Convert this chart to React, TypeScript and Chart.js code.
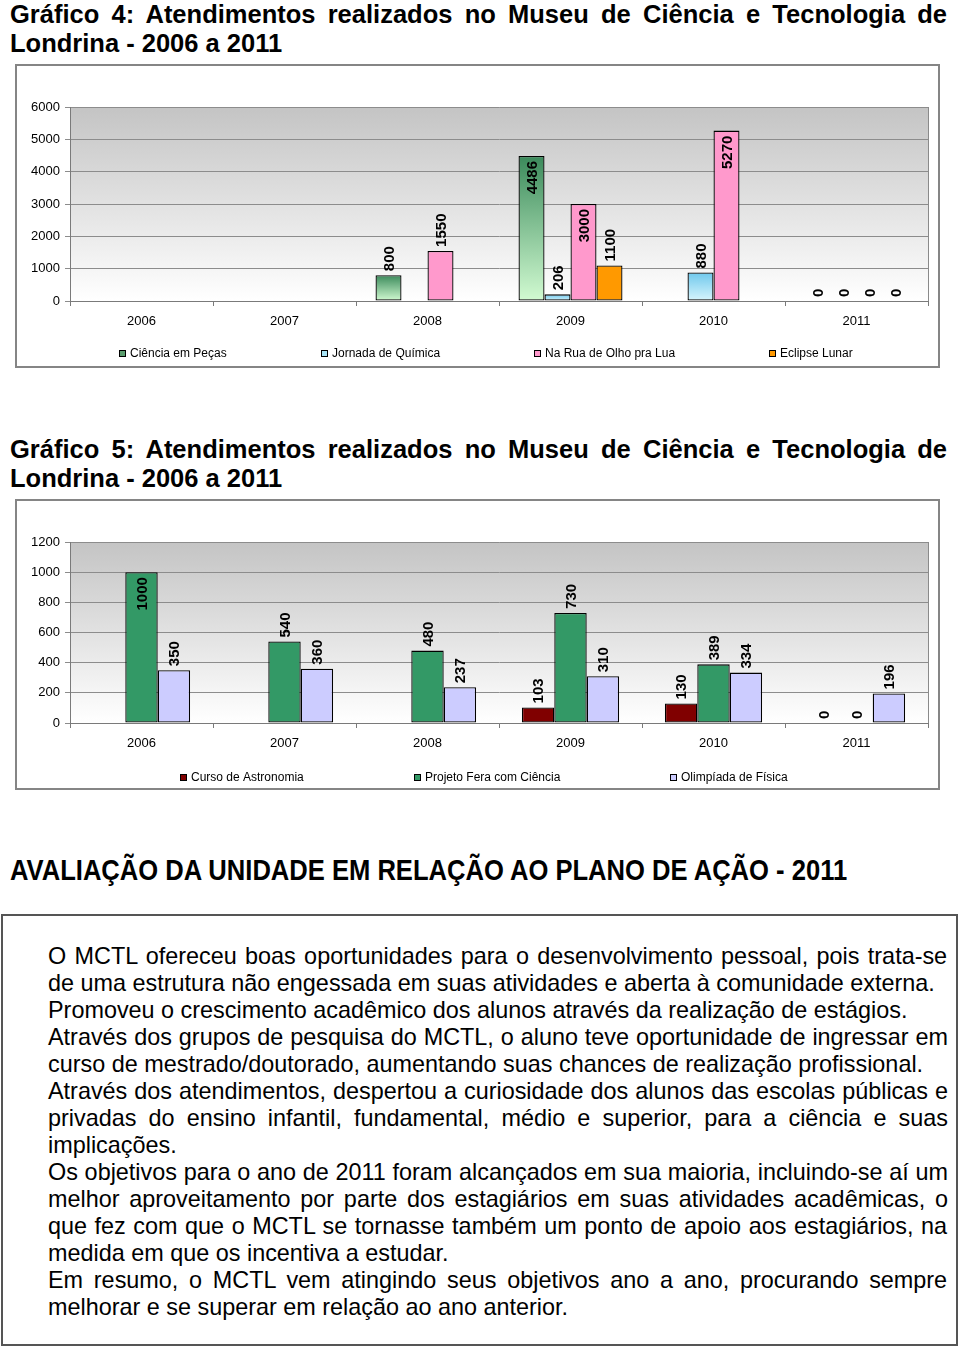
import React, { useEffect, useRef } from "react";
import { Chart, registerables } from "chart.js";

Chart.register(...registerables);

// ---------------- DATA ----------------
const years = ["2006", "2007", "2008", "2009", "2010", "2011"];

// Gráfico 4
const c4Labels = ["Ciência em Peças", "Jornada de Química", "Na Rua de Olho pra Lua", "Eclipse Lunar"];
const cienciaEmPecas = [null, null, 800, 4486, null, 0];
const jornadaDeQuimica = [null, null, null, 206, 880, 0];
const naRuaDeOlhoPraLua = [null, null, 1550, 3000, 5270, 0];
const eclipseLunar = [null, null, null, 1100, null, 0];
const c4Max = 6000;
const c4Step = 1000;

// Gráfico 5
const c5Labels = ["Curso de Astronomia", "Projeto Fera com Ciência", "Olimpíada de Física"];
const cursoDeAstronomia = [null, null, null, 103, 130, 0];
const projetoFeraComCiencia = [1000, 540, 480, 730, 389, 0];
const olimpiadaDeFisica = [350, 360, 237, 310, 334, 196];
const c5Max = 1200;
const c5Step = 200;

const title4 = ["Gráfico 4: Atendimentos realizados no Museu de Ciência e Tecnologia de", "Londrina - 2006 a 2011"];
const title5 = ["Gráfico 5: Atendimentos realizados no Museu de Ciência e Tecnologia de", "Londrina - 2006 a 2011"];
const heading = "AVALIAÇÃO DA UNIDADE EM RELAÇÃO AO PLANO DE AÇÃO - 2011";

// [text, justified]
const bodyLines: [string, boolean][] = [
  ["O MCTL ofereceu boas oportunidades para o desenvolvimento pessoal, pois trata-se", true],
  ["de uma estrutura não engessada em suas atividades e aberta à comunidade externa.", false],
  ["Promoveu o crescimento acadêmico dos alunos através da realização de estágios.", false],
  ["Através dos grupos de pesquisa do MCTL, o aluno teve oportunidade de ingressar em", true],
  ["curso de mestrado/doutorado, aumentando suas chances de realização profissional.", false],
  ["Através dos atendimentos, despertou a curiosidade dos alunos das escolas públicas e", true],
  ["privadas do ensino infantil, fundamental, médio e superior, para a ciência e suas", true],
  ["implicações.", false],
  ["Os objetivos para o ano de 2011 foram alcançados em sua maioria, incluindo-se aí um", true],
  ["melhor aproveitamento por parte dos estagiários em suas atividades acadêmicas, o", true],
  ["que fez com que o MCTL se tornasse também um ponto de apoio aos estagiários, na", true],
  ["medida em que os incentiva a estudar.", false],
  ["Em resumo, o MCTL vem atingindo seus objetivos ano a ano, procurando sempre", true],
  ["melhorar e se superar em relação ao ano anterior.", false],
];

// ---------------- HELPERS ----------------
const FONT = '"Liberation Sans", Arial, Helvetica, sans-serif';

let measureCtx: CanvasRenderingContext2D | null = null;
function textWidth(text: string, font: string): number {
  if (!measureCtx) measureCtx = document.createElement("canvas").getContext("2d");
  measureCtx!.font = font;
  return measureCtx!.measureText(text).width;
}

function Line(props: {
  text: string; left: number; top: number; width: number; lineHeight: number;
  size: number; weight?: string; family?: string; justify?: boolean;
}) {
  const { text, left, top, width, lineHeight, size, weight = "normal", family = FONT, justify } = props;
  const natural = textWidth(text, `${weight} ${size}px ${family}`);
  const spaces = (text.match(/ /g) || []).length;
  let ws = 0;
  if (spaces && (justify || natural > width)) ws = (width - natural) / spaces;
  return (
    <div
      style={{
        position: "absolute", left, top, width, height: lineHeight,
        fontFamily: family, fontSize: size, fontWeight: weight as any,
        lineHeight: lineHeight + "px", whiteSpace: "pre", wordSpacing: ws, color: "#000",
      }}
    >
      {text}
    </div>
  );
}

function FitLine(props: { text: string; left: number; top: number; width: number; size: number; lineHeight: number; family: string; weight: string }) {
  const { text, left, top, width, size, lineHeight, family, weight } = props;
  const natural = textWidth(text, `${weight} ${size}px ${family}`);
  const s = width / natural;
  return (
    <div
      style={{
        position: "absolute", left, top, height: lineHeight, lineHeight: lineHeight + "px",
        fontFamily: family, fontSize: size, fontWeight: weight as any, whiteSpace: "pre",
        transform: `scaleX(${s})`, transformOrigin: "0 0", color: "#000",
      }}
    >
      {text}
    </div>
  );
}

// ---------------- PLUGINS ----------------
const plotBgPlugin = {
  id: "plotBg",
  beforeDraw(chart: any) {
    const { ctx, chartArea: a } = chart;
    const g = ctx.createLinearGradient(0, a.top, 0, a.bottom);
    g.addColorStop(0, "#c4c4c4");
    g.addColorStop(1, "#ffffff");
    ctx.save();
    ctx.fillStyle = g;
    ctx.fillRect(a.left, a.top, a.right - a.left, a.bottom - a.top);
    ctx.restore();
  },
  beforeDatasetsDraw(chart: any) {
    const { ctx, chartArea: a } = chart;
    ctx.save();
    ctx.strokeStyle = "#8a8a8a";
    ctx.lineWidth = 1;
    ctx.beginPath();
    ctx.moveTo(Math.round(a.right) + 0.5, a.top);
    ctx.lineTo(Math.round(a.right) + 0.5, a.bottom);
    ctx.stroke();
    ctx.restore();
  },
};

const barLabelPlugin = {
  id: "barLabels",
  afterDatasetDraw(chart: any, args: any, opts: any) {
    const meta = args.meta;
    const ds = chart.data.datasets[args.index];
    const ctx = chart.ctx;
    ctx.save();
    ctx.font = `bold ${opts.size}px ${FONT}`;
    ctx.fillStyle = "#000";
    ctx.textBaseline = "middle";
    meta.data.forEach((el: any, i: number) => {
      const v = ds.data[i];
      if (v == null) return;
      const inside = v >= opts.insideFrom;
      ctx.save();
      ctx.translate(el.x + 1, inside ? el.y + 5 : el.y - 4);
      ctx.rotate(-Math.PI / 2);
      ctx.textAlign = inside ? "right" : "left";
      ctx.fillText(String(v), 0, 0);
      ctx.restore();
    });
    ctx.restore();
  },
};

const boxLegendPlugin = {
  id: "boxLegend",
  afterDraw(chart: any, _args: any, opts: any) {
    const ctx = chart.ctx;
    ctx.save();
    ctx.font = `12px ${FONT}`;
    const box = 7;
    const gapText = 4;
    const items = chart.data.datasets.map((d: any, i: number) => ({ text: d.label, color: opts.colors[i] }));
    const widths = items.map((it: any) => box + gapText + ctx.measureText(it.text).width);
    const total = widths.reduce((a: number, b: number) => a + b, 0) + opts.gap * (items.length - 1);
    let x = opts.centerX - total / 2;
    const y = opts.y;
    items.forEach((it: any, i: number) => {
      const bx = Math.round(x);
      const by = Math.round(y - box / 2);
      ctx.fillStyle = it.color;
      ctx.fillRect(bx, by, box, box);
      ctx.strokeStyle = "#000";
      ctx.lineWidth = 1;
      ctx.strokeRect(bx + 0.5, by + 0.5, box - 1, box - 1);
      ctx.fillStyle = "#000";
      ctx.textAlign = "left";
      ctx.textBaseline = "middle";
      ctx.fillText(it.text, bx + box + gapText, y + 0.5);
      x += widths[i] + opts.gap;
    });
    ctx.restore();
  },
};

function gradientFill(top: string, bottom: string) {
  return (c: any) => {
    const chart = c.chart;
    if (c.type !== "data" || !chart.chartArea) return bottom;
    const v = c.raw;
    if (v == null || !chart.scales.y) return bottom;
    const y = chart.scales.y;
    const yTop = y.getPixelForValue(v);
    const yBot = y.getPixelForValue(0);
    if (!isFinite(yTop) || !isFinite(yBot) || yBot - yTop < 1) return bottom;
    const g = chart.ctx.createLinearGradient(0, yTop, 0, yBot);
    g.addColorStop(0, top);
    g.addColorStop(1, bottom);
    return g;
  };
}

function makeConfig(opts: {
  labels: string[]; datasets: any[]; max: number; step: number; catPct: number;
  legendColors: string[]; legendGap: number; legendCenter: number; legendY: number; insideFrom: number;
}): any {
  return {
    type: "bar",
    data: {
      labels: years,
      datasets: opts.datasets.map((d, i) => ({
        label: opts.labels[i],
        data: d.data,
        backgroundColor: d.color,
        borderColor: "#000",
        borderWidth: 1.3,
        borderSkipped: false,
      })),
    },
    options: {
      animation: false,
      responsive: false,
      maintainAspectRatio: false,
      events: [],
      layout: { padding: { left: 0, right: 10, top: 41, bottom: 0 } },
      datasets: { bar: { categoryPercentage: opts.catPct, barPercentage: 1 } },
      plugins: {
        legend: { display: false },
        tooltip: { enabled: false },
        title: { display: false },
        barLabels: { size: 15, insideFrom: opts.insideFrom },
        boxLegend: { colors: opts.legendColors, gap: opts.legendGap, centerX: opts.legendCenter, y: opts.legendY },
      },
      scales: {
        x: {
          offset: true,
          grid: { display: true, drawOnChartArea: false, drawTicks: true, tickLength: 5, offset: true, color: "#7a7a7a" },
          border: { display: true, color: "#7a7a7a", width: 1 },
          ticks: { color: "#000", font: { family: FONT, size: 13 }, padding: 8, maxRotation: 0 },
          afterFit: (s: any) => { s.height = 65; },
        },
        y: {
          min: 0,
          max: opts.max,
          ticks: {
            stepSize: opts.step, color: "#000", font: { family: FONT, size: 13 }, padding: 5,
            callback: (v: any) => String(v),
          },
          grid: { color: "#8c8c8c", tickLength: 5, lineWidth: 1 },
          border: { display: true, color: "#7a7a7a", width: 1 },
          afterFit: (s: any) => { s.width = 53; },
        },
      },
    },
    plugins: [plotBgPlugin, barLabelPlugin, boxLegendPlugin],
  };
}

function ChartBox(props: { left: number; top: number; width: number; height: number; config: () => any }) {
  const ref = useRef<HTMLCanvasElement>(null);
  const { left, top, width, height, config } = props;
  useEffect(() => {
    const chart = new Chart(ref.current as HTMLCanvasElement, config());
    return () => chart.destroy();
  }, []);
  const innerW = width - 4;
  const innerH = height - 4;
  return (
    <div
      style={{
        position: "absolute", left, top, width, height, boxSizing: "border-box",
        border: "2px solid #858585", background: "#fff",
      }}
    >
      <canvas ref={ref} width={innerW} height={innerH} style={{ display: "block", width: innerW, height: innerH }} />
    </div>
  );
}

const chart4Config = () =>
  makeConfig({
    labels: c4Labels,
    datasets: [
      { data: cienciaEmPecas, color: gradientFill("#3b8a5b", "#d2fbd2") },
      { data: jornadaDeQuimica, color: gradientFill("#6fc8ec", "#d8f5fd") },
      { data: naRuaDeOlhoPraLua, color: "#ff99cc" },
      { data: eclipseLunar, color: "#ff9900" },
    ],
    max: c4Max,
    step: c4Step,
    catPct: 0.727,
    legendColors: ["#5a9e6e", "#a8e4f6", "#ff99cc", "#ff9900"],
    legendGap: 94,
    legendCenter: 469,
    legendY: 287,
    insideFrom: 3000,
  });

const chart5Config = () =>
  makeConfig({
    labels: c5Labels,
    datasets: [
      { data: cursoDeAstronomia, color: "#800000" },
      { data: projetoFeraComCiencia, color: "#339966" },
      { data: olimpiadaDeFisica, color: "#ccccff" },
    ],
    max: c5Max,
    step: c5Step,
    catPct: 0.68,
    legendColors: ["#800000", "#339966", "#ccccff"],
    legendGap: 110,
    legendCenter: 467,
    legendY: 276,
    insideFrom: 1000,
  });

export default function App() {
  const titleSize = 25.5;
  return (
    <div style={{ position: "absolute", left: 0, top: 0, width: 960, height: 1348, background: "#fff", overflow: "hidden" }}>
      <Line text={title4[0]} left={10} top={0} width={938} lineHeight={29} size={titleSize} weight="bold" justify />
      <Line text={title4[1]} left={10} top={29} width={938} lineHeight={29} size={titleSize} weight="bold" />

      <ChartBox left={15} top={64} width={925} height={304} config={chart4Config} />

      <Line text={title5[0]} left={10} top={435} width={938} lineHeight={29} size={titleSize} weight="bold" justify />
      <Line text={title5[1]} left={10} top={464} width={938} lineHeight={29} size={titleSize} weight="bold" />

      <ChartBox left={15} top={499} width={925} height={291} config={chart5Config} />

      <FitLine text={heading} left={10} top={852} width={840} size={30} lineHeight={36} family={FONT} weight="bold" />

      <div
        style={{
          position: "absolute", left: 1, top: 914, width: 957, height: 432, boxSizing: "border-box",
          border: "2px solid #555",
        }}
      />
      {bodyLines.map(([t, j], i) => (
        <Line key={i} text={t} left={48} top={942.5 + 27 * i} width={900} lineHeight={27} size={23.4} justify={j} />
      ))}
    </div>
  );
}
